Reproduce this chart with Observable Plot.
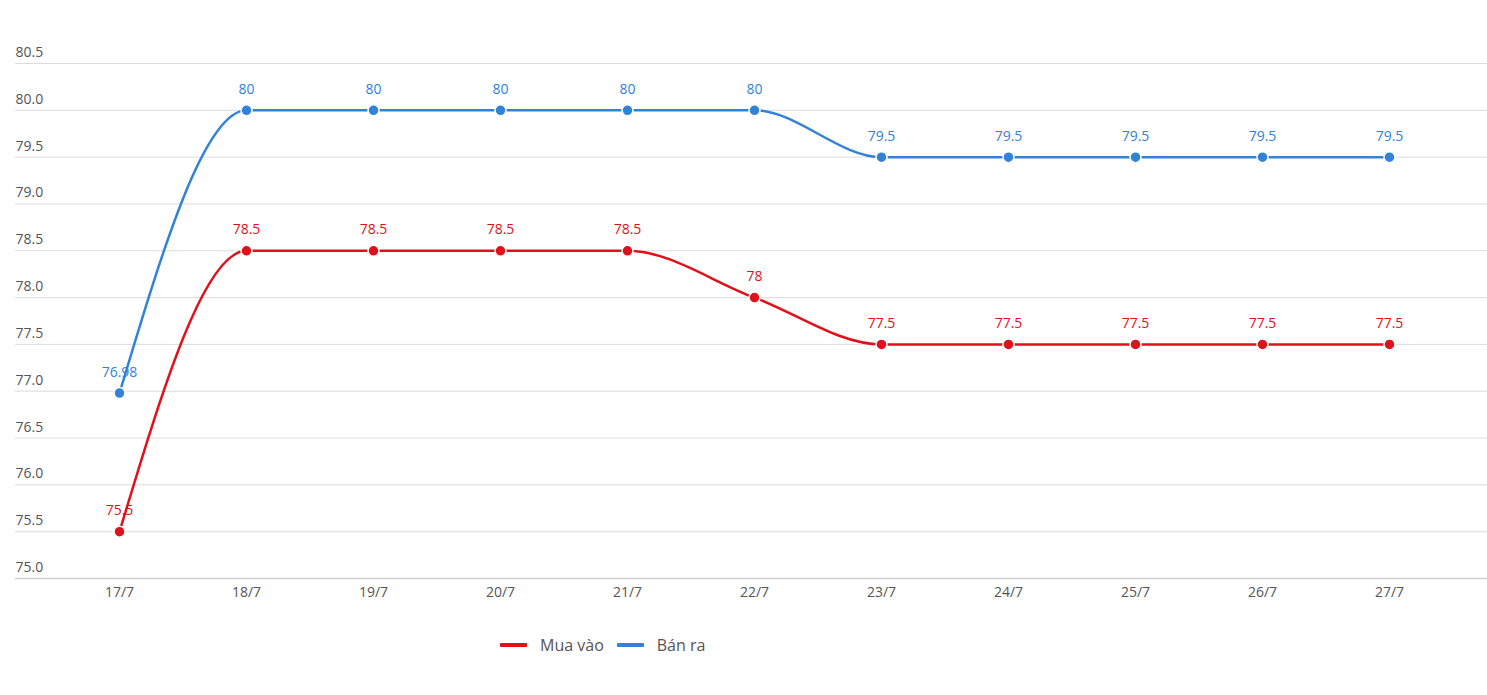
<!DOCTYPE html>
<html>
<head>
<meta charset="utf-8">
<script src="https://cdn.jsdelivr.net/npm/d3@7"></script>
<script src="https://cdn.jsdelivr.net/npm/@observablehq/plot@0.6"></script>
<style>
  html, body { margin: 0; padding: 0; background: #fff; }
  body { width: 1487px; height: 695px; overflow: hidden; font-family: "Open Sans", sans-serif; }
  #legend { display: flex; align-items: center; height: 30px; margin-top: 10px; padding-left: 500px; font-size: 16px; color: #555; }
  .item { display: flex; align-items: center; margin-right: 13px; }
  .sw { width: 27px; height: 4px; margin-right: 13px; border-radius: 1px; }
</style>
</head>
<body>
<div id="chart"></div>
<div id="legend"></div>
<script>
const dates = ["17/7","18/7","19/7","20/7","21/7","22/7","23/7","24/7","25/7","26/7","27/7"];
const muaVao = [75.5, 78.5, 78.5, 78.5, 78.5, 78, 77.5, 77.5, 77.5, 77.5, 77.5];
const banRa = [76.98, 80, 80, 80, 80, 80, 79.5, 79.5, 79.5, 79.5, 79.5];
const seriesNames = ["Mua vào", "Bán ra"];
const colors = ["#e0111b", "#3282d8"];
const yTicks = [75, 75.5, 76, 76.5, 77, 77.5, 78, 78.5, 79, 79.5, 80, 80.5];

const rows = [];
dates.forEach((d, i) => {
  rows.push({date: d, value: muaVao[i], series: seriesNames[0]});
  rows.push({date: d, value: banRa[i], series: seriesNames[1]});
});

const chart = Plot.plot({
  width: 1487,
  height: 620,
  marginTop: 63,
  marginBottom: 42,
  marginLeft: 15,
  marginRight: 0,
  style: {fontFamily: "'Open Sans', sans-serif", fontSize: "14px", color: "#555", background: "#fff"},
  x: {type: "point", domain: dates, range: [116, 1391], padding: 0, label: null},
  y: {domain: [75, 80.5], label: null},
  color: {domain: seriesNames, range: colors},
  marks: [
    Plot.gridY(yTicks, {stroke: "#dcdcdc", strokeOpacity: 1, strokeWidth: 1}),
    Plot.ruleY([75], {stroke: "#cfcfcf", strokeWidth: 1.5}),
    Plot.axisY(yTicks, {anchor: "left", tickSize: 0, tickPadding: 0, textAnchor: "start", dy: -11, tickFormat: d3.format(".1f"), fill: "#555", fontSize: 14, label: null}),
    Plot.axisX({anchor: "bottom", tickSize: 0, tickPadding: 9, fill: "#555", fontSize: 14, label: null}),
    Plot.text(rows, {x: "date", y: "value", text: d => String(d.value), fill: "series", dy: -21, fontSize: 14}),
    Plot.line(rows, {x: "date", y: "value", z: "series", stroke: "series", strokeWidth: 2.5, curve: "monotone-x"}),
    Plot.dot(rows, {x: "date", y: "value", fill: "series", r: 5.5, stroke: "#fff", strokeWidth: 1.5})
  ]
});
document.getElementById("chart").appendChild(chart);

const legend = document.getElementById("legend");
seriesNames.forEach((n, i) => {
  const item = document.createElement("div");
  item.className = "item";
  const sw = document.createElement("div");
  sw.className = "sw";
  sw.style.background = colors[i];
  const lab = document.createElement("span");
  lab.textContent = n;
  item.appendChild(sw);
  item.appendChild(lab);
  legend.appendChild(item);
});
</script>
</body>
</html>
